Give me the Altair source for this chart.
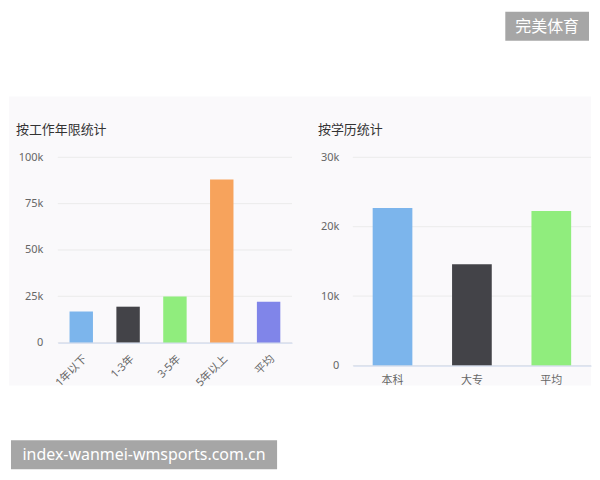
import altair as alt
import pandas as pd

# ---- data ----
work_cats = ["1年以下", "1-3年", "3-5年", "5年以上", "平均"]
work_vals = [16800, 19400, 24900, 88000, 22000]
work_colors = ["#7cb5ec", "#434348", "#90ed7d", "#f7a35c", "#8085e9"]
work_ticks = [0, 25000, 50000, 75000, 100000]

edu_cats = ["本科", "大专", "平均"]
edu_vals = [22700, 14600, 22250]
edu_colors = ["#7cb5ec", "#434348", "#90ed7d"]
edu_ticks = [0, 10000, 20000, 30000]

titles = ["按工作年限统计", "按学历统计"]
watermarks = ["完美体育", "index-wanmei-wmsports.com.cn"]

FONT = "Noto Sans, Noto Sans CJK SC"
PANEL = "#faf9fb"
GRID = "#ebebeb"
LABEL_EXPR = "datum.value == 0 ? '0' : format(datum.value / 1000, 'd') + 'k'"

work_df = pd.DataFrame({"work": work_cats, "wval": work_vals})
edu_df = pd.DataFrame({"edu": edu_cats, "eval": edu_vals})
work_tick_df = pd.DataFrame({"wval": work_ticks})
edu_tick_df = pd.DataFrame({"eval": edu_ticks})
one = pd.DataFrame({"a": [0]})

LW, LH = 235, 186
RW, RH = 239, 209


def y_axis(ticks, pad):
    return alt.Axis(
        title=None, values=ticks, labelExpr=LABEL_EXPR, domain=False, ticks=False,
        grid=False, labelColor="#666666", labelFontSize=11,
        labelFont=FONT, labelPadding=pad, zindex=1,
    )


def x_axis(angle, pad):
    return alt.Axis(
        title=None, labelAngle=angle, ticks=False, grid=False, domainColor="#ccd6eb",
        labelColor="#666666", labelFontSize=11, labelFont=FONT, labelPadding=pad, zindex=1,
    )


# ---- left panel ----
wy = alt.Scale(domain=[0, 100000], nice=False)
left_bars = alt.Chart(work_df).mark_bar().encode(
    x=alt.X("work:N", sort=work_cats,
            scale=alt.Scale(paddingInner=0.5, paddingOuter=0.25),
            axis=x_axis(-45, 10)),
    y=alt.Y("wval:Q", scale=wy, axis=y_axis(work_ticks, 15)),
    color=alt.Color("work:N", scale=alt.Scale(domain=work_cats, range=work_colors), legend=None),
)
left_grid = alt.Chart(work_tick_df).mark_rule(color=GRID, strokeWidth=1).encode(
    y=alt.Y("wval:Q", scale=wy), x=alt.value(0), x2=alt.value(LW))

# light panel behind both charts
panel = alt.Chart(one).mark_rect(color=PANEL).encode(
    x=alt.value(-49), x2=alt.value(535), y=alt.value(-61), y2=alt.value(229))

left_title = alt.Chart(one).mark_text(
    text=titles[0], align="left", baseline="middle", fontSize=13, font=FONT, color="#333333"
).encode(x=alt.value(-42), y=alt.value(-27))

wm1_box = alt.Chart(one).mark_rect(color="#a6a6a6").encode(
    x=alt.value(449), x2=alt.value(533), y=alt.value(-146), y2=alt.value(-117))
wm1_text = alt.Chart(one).mark_text(
    text=watermarks[0], align="center", baseline="middle", fontSize=16, font=FONT, color="white"
).encode(x=alt.value(491), y=alt.value(-131))
wm2_box = alt.Chart(one).mark_rect(color="#a6a6a6").encode(
    x=alt.value(-47), x2=alt.value(220), y=alt.value(284), y2=alt.value(313))
wm2_text = alt.Chart(one).mark_text(
    text=watermarks[1], align="center", baseline="middle", fontSize=16, font=FONT, color="white"
).encode(x=alt.value(86.5), y=alt.value(299))

left = alt.layer(
    panel, left_grid, left_bars, left_title, wm1_box, wm1_text, wm2_box, wm2_text
).properties(width=LW, height=LH)

# ---- right panel ----
ey = alt.Scale(domain=[0, 30000], nice=False)
right_bars = alt.Chart(edu_df).mark_bar().encode(
    x=alt.X("edu:N", sort=edu_cats,
            scale=alt.Scale(paddingInner=0.5, paddingOuter=0.25),
            axis=x_axis(0, 9)),
    y=alt.Y("eval:Q", scale=ey, axis=y_axis(edu_ticks, 14)),
    color=alt.Color("edu:N", scale=alt.Scale(domain=edu_cats, range=edu_colors), legend=None),
)
right_grid = alt.Chart(edu_tick_df).mark_rule(color=GRID, strokeWidth=1).encode(
    y=alt.Y("eval:Q", scale=ey), x=alt.value(0), x2=alt.value(RW))
right_title = alt.Chart(one).mark_text(
    text=titles[1], align="left", baseline="middle", fontSize=13, font=FONT, color="#333333"
).encode(x=alt.value(-35), y=alt.value(-27))

right = alt.layer(right_grid, right_bars, right_title).properties(width=RW, height=RH)

chart = alt.hconcat(left, right, spacing=61, bounds="flush").properties(
    padding={"left": 0, "top": 2, "right": 0, "bottom": 0}, background="white"
).resolve_scale(color="independent").configure_view(stroke="transparent")

chart.save("out.html", embed_options={"renderer": "svg", "actions": False})
